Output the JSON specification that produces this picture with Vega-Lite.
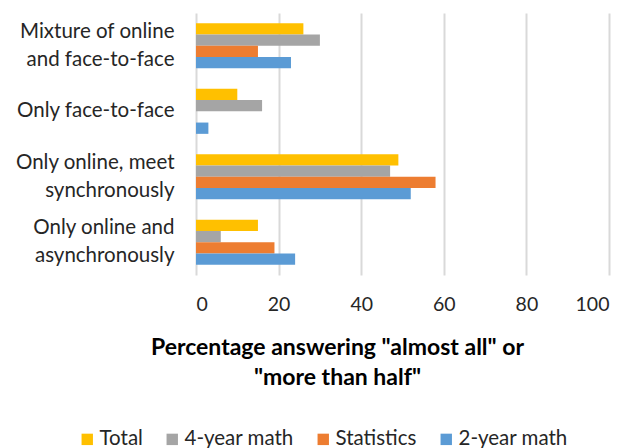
{
  "$schema": "https://vega.github.io/schema/vega-lite/v6.json",
  "width": 413,
  "height": 262,
  "autosize": {"type": "none"},
  "padding": {"left": 196, "top": 13, "right": 30, "bottom": 173},
  "background": "white",
  "config": {
    "font": "Lato",
    "view": {"stroke": null}
  },
  "data": {
    "values": [
      {"category": "Mixture of online and face-to-face", "series": "Total", "value": 26},
      {"category": "Mixture of online and face-to-face", "series": "4-year math", "value": 30},
      {"category": "Mixture of online and face-to-face", "series": "Statistics", "value": 15},
      {"category": "Mixture of online and face-to-face", "series": "2-year math", "value": 23},
      {"category": "Only face-to-face", "series": "Total", "value": 10},
      {"category": "Only face-to-face", "series": "4-year math", "value": 16},
      {"category": "Only face-to-face", "series": "Statistics", "value": 0},
      {"category": "Only face-to-face", "series": "2-year math", "value": 3},
      {"category": "Only online, meet synchronously", "series": "Total", "value": 49},
      {"category": "Only online, meet synchronously", "series": "4-year math", "value": 47},
      {"category": "Only online, meet synchronously", "series": "Statistics", "value": 58},
      {"category": "Only online, meet synchronously", "series": "2-year math", "value": 52},
      {"category": "Only online and asynchronously", "series": "Total", "value": 15},
      {"category": "Only online and asynchronously", "series": "4-year math", "value": 6},
      {"category": "Only online and asynchronously", "series": "Statistics", "value": 19},
      {"category": "Only online and asynchronously", "series": "2-year math", "value": 24}
    ]
  },
  "mark": {"type": "bar"},
  "encoding": {
    "y": {
      "field": "category",
      "type": "nominal",
      "sort": ["Mixture of online and face-to-face", "Only face-to-face", "Only online, meet synchronously", "Only online and asynchronously"],
      "scale": {"paddingInner": 0.31, "paddingOuter": 0.155},
      "axis": {
        "title": null,
        "domain": false,
        "ticks": false,
        "labelPadding": 22,
        "labelFontSize": 20.5,
        "labelColor": "#262626",
        "labelLineHeight": 28,
        "labelOffset": {"expr": "datum.value == 'Only face-to-face' ? 0 : -14"},
        "labelExpr": "datum.value == 'Mixture of online and face-to-face' ? ['Mixture of online', 'and face-to-face'] : datum.value == 'Only online, meet synchronously' ? ['Only online, meet', 'synchronously'] : datum.value == 'Only online and asynchronously' ? ['Only online and', 'asynchronously'] : datum.value"
      }
    },
    "yOffset": {
      "field": "series",
      "type": "nominal",
      "sort": ["Total", "4-year math", "Statistics", "2-year math"],
      "scale": {"paddingInner": 0, "paddingOuter": 0}
    },
    "x": {
      "field": "value",
      "type": "quantitative",
      "scale": {"domain": [0, 100]},
      "axis": {
        "values": [0, 20, 40, 60, 80, 100],
        "grid": true,
        "gridColor": "#d9d9d9",
        "gridWidth": 2,
        "domain": false,
        "ticks": false,
        "labelPadding": 20,
        "labelFontSize": 19.5,
        "labelColor": "#262626",
        "title": ["Percentage answering \"almost all\" or", "\"more than half\""],
        "titleFontSize": 23,
        "titleFontWeight": "bold",
        "titleColor": "#000000",
        "titleLineHeight": 30,
        "titleAlign": "center",
        "titleAnchor": null,
        "titleX": 141,
        "titleY": 61,
        "titleBaseline": "top"
      }
    },
    "color": {
      "field": "series",
      "type": "nominal",
      "sort": ["Total", "4-year math", "Statistics", "2-year math"],
      "scale": {
        "domain": ["Total", "4-year math", "Statistics", "2-year math"],
        "range": ["#FFC000", "#A5A5A5", "#ED7D31", "#5B9BD5"]
      },
      "legend": {
        "title": null,
        "orient": "none",
        "direction": "horizontal",
        "legendX": -119,
        "legendY": 416,
        "symbolType": "square",
        "symbolSize": 130,
        "symbolStrokeWidth": 0,
        "labelFontSize": 20.5,
        "labelColor": "#262626",
        "labelOffset": 2,
        "columnPadding": 19
      }
    }
  }
}
